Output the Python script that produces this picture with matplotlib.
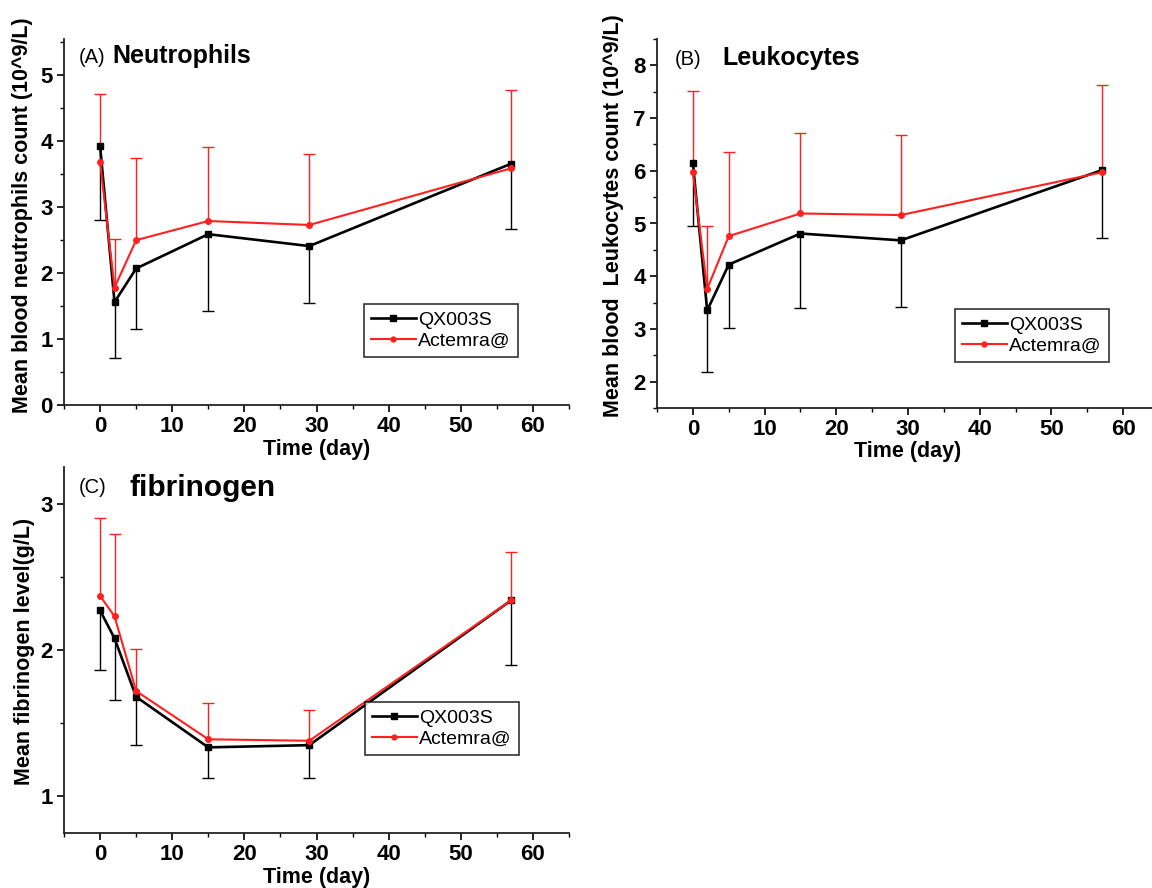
import matplotlib
matplotlib.use('Agg')
import matplotlib.pyplot as plt
from matplotlib.lines import Line2D
from matplotlib.ticker import MultipleLocator

plt.rcParams['font.family'] = ['Liberation Sans', 'DejaVu Sans']

days = [0, 2, 5, 15, 29, 57]
series_names = ['QX003S', 'Actemra@']

# (A) neutrophils, 10^9/L
neut_qx = [3.93, 1.56, 2.07, 2.59, 2.41, 3.66]
neut_qx_low = [2.81, 0.72, 1.15, 1.43, 1.55, 2.67]
neut_act = [3.69, 1.78, 2.50, 2.79, 2.73, 3.59]
neut_act_high = [4.72, 2.52, 3.75, 3.91, 3.81, 4.77]

# (B) leukocytes, 10^9/L
leuk_qx = [6.15, 3.35, 4.22, 4.81, 4.68, 6.01]
leuk_qx_low = [4.95, 2.19, 3.01, 3.39, 3.41, 4.72]
leuk_act = [5.97, 3.76, 4.76, 5.19, 5.16, 5.97]
leuk_act_high = [7.51, 4.95, 6.35, 6.72, 6.68, 7.63]

# (C) fibrinogen, g/L
fib_qx = [2.27, 2.08, 1.68, 1.335, 1.35, 2.34]
fib_qx_low = [1.865, 1.657, 1.35, 1.125, 1.125, 1.90]
fib_act = [2.37, 2.23, 1.72, 1.39, 1.38, 2.34]
fib_act_high = [2.90, 2.79, 2.01, 1.64, 1.59, 2.67]

W, H = 1152, 888
BLACK = 'black'
RED = '#ff2020'


def px_axes(fig, left, bottom, width, height):
    # pixel box (top-left origin) -> figure fraction
    return fig.add_axes([left / W, 1 - bottom / H, width / W, height / H])


def one_sided(ax, x, y, end, color):
    # Origin style: a single bar with a cap only at the far end
    ax.vlines(x, y, end, color=color, lw=1.0, zorder=2)
    ax.plot(x, end, ls='none', marker='_', ms=9, mew=1.0, color=color, zorder=2)


def panel(ax, qx, qx_low, act, act_high, ylim):
    one_sided(ax, days, qx, qx_low, BLACK)
    one_sided(ax, days, act, act_high, RED)
    ax.plot(days, qx, color=BLACK, lw=1.9, marker='s', ms=5, zorder=3)
    ax.plot(days, act, color=RED, lw=1.5, marker='o', ms=4, zorder=4)
    ax.set_xlim(-5, 65)
    ax.set_ylim(*ylim)
    ax.set_xticks([0, 10, 20, 30, 40, 50, 60])
    ax.xaxis.set_minor_locator(MultipleLocator(5))
    ax.yaxis.set_major_locator(MultipleLocator(1))
    ax.yaxis.set_minor_locator(MultipleLocator(0.5))
    for s in ['top', 'right']:
        ax.spines[s].set_visible(False)
    for s in ['left', 'bottom']:
        ax.spines[s].set_linewidth(1.3)
        ax.spines[s].set_color('#222222')
    ax.tick_params(which='major', direction='out', length=5, width=1.2,
                   labelsize=16, pad=3)
    ax.tick_params(which='minor', direction='out', length=3, width=1.0)
    for lab in ax.get_xticklabels() + ax.get_yticklabels():
        lab.set_fontweight('bold')
    ax.set_xlabel('Time (day)', fontsize=15.5, fontweight='bold', labelpad=1)
    handles = [Line2D([], [], color=BLACK, lw=1.9, marker='s', ms=4),
               Line2D([], [], color=RED, lw=1.5, marker='o', ms=3.5)]
    leg = ax.legend(handles, series_names, loc='lower left', fontsize=14,
                    frameon=True, fancybox=False, edgecolor='black',
                    handlelength=2.3, handletextpad=0.15, borderpad=0.35,
                    labelspacing=0.2, borderaxespad=0)
    leg.get_frame().set_linewidth(1.2)
    return leg


fig = plt.figure(figsize=(W / 100, H / 100), dpi=100)

axA = px_axes(fig, 64, 405, 505, 366)
legA = panel(axA, neut_qx, neut_qx_low, neut_act, neut_act_high, (0, 5.55))
legA.set_bbox_to_anchor((364 / W, 1 - 357 / H), transform=fig.transFigure)

axB = px_axes(fig, 657, 408, 502, 369)
legB = panel(axB, leuk_qx, leuk_qx_low, leuk_act, leuk_act_high, (1.5, 8.5))
legB.set_bbox_to_anchor((955 / W, 1 - 362 / H), transform=fig.transFigure)

axC = px_axes(fig, 64, 833, 505, 366)
legC = panel(axC, fib_qx, fib_qx_low, fib_act, fib_act_high, (0.75, 3.25))
legC.set_bbox_to_anchor((365 / W, 1 - 755 / H), transform=fig.transFigure)

# y labels
fig.text(23 / W, 1 - 215 / H, 'Mean blood neutrophils count (10^9/L)',
         rotation=90, ha='center', va='center', fontsize=15.5, fontweight='bold')
fig.text(614 / W, 1 - 216 / H, 'Mean blood  Leukocytes count (10^9/L)',
         rotation=90, ha='center', va='center', fontsize=15.5, fontweight='bold')
fig.text(25 / W, 1 - 651 / H, 'Mean fibrinogen level(g/L)',
         rotation=90, ha='center', va='center', fontsize=15.5, fontweight='bold')

# panel titles
fig.text(79 / W, 1 - 63 / H, '(A)', fontsize=14.5, ha='left', va='baseline')
fig.text(112 / W, 1 - 63 / H, 'Neutrophils', fontsize=18, fontweight='bold',
         ha='left', va='baseline')
fig.text(675 / W, 1 - 65 / H, '(B)', fontsize=14.5, ha='left', va='baseline')
fig.text(722 / W, 1 - 65 / H, 'Leukocytes', fontsize=18, fontweight='bold',
         ha='left', va='baseline')
fig.text(79 / W, 1 - 493 / H, '(C)', fontsize=14.5, ha='left', va='baseline')
fig.text(130 / W, 1 - 496 / H, 'fibrinogen', fontsize=21.5, fontweight='bold',
         ha='left', va='baseline')

fig.savefig('out.png', dpi=100)
